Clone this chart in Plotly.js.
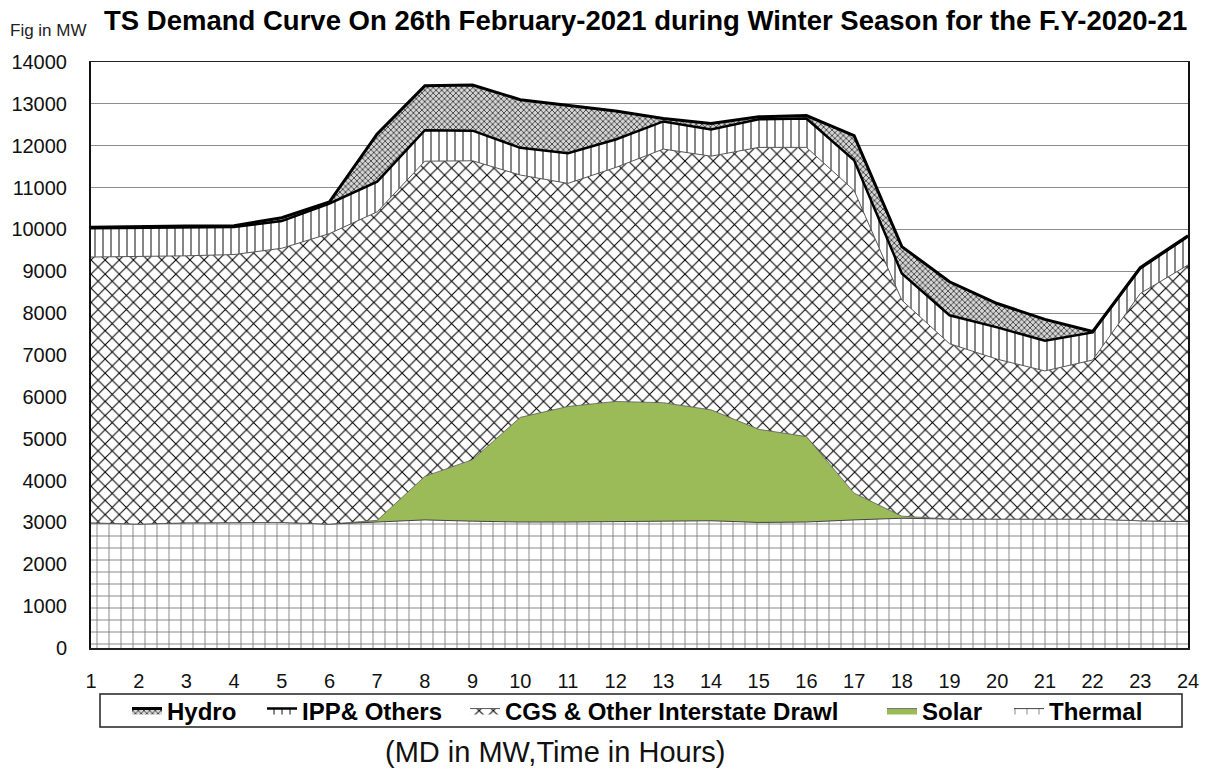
<!DOCTYPE html>
<html>
<head>
<meta charset="utf-8">
<script src="https://cdn.plot.ly/plotly-3.0.1.min.js"></script>
<style>
html,body{margin:0;padding:0;background:#fff;}
#chart{width:1216px;height:771px;}
</style>
</head>
<body>
<div id="chart"></div>
<script>
// Hours of the day
var hours = [1,2,3,4,5,6,7,8,9,10,11,12,13,14,15,16,17,18,19,20,21,22,23,24];
// Generation by source (MW)
var thermal = [2990,2960,2990,2990,3000,2960,3010,3060,3030,3010,3010,3020,3030,3040,3000,3010,3060,3100,3080,3080,3080,3080,3040,3020];
var solar   = [0,0,0,0,0,0,40,1040,1470,2500,2760,2870,2830,2650,2225,2040,640,50,0,0,0,0,0,0];
var cgs     = [6350,6390,6380,6410,6550,6940,7370,7530,7140,5790,5330,5590,6060,6060,6735,6910,7230,5160,4190,3820,3540,3800,5430,6130];
var ipp     = [690,690,680,660,650,720,720,740,720,650,720,670,660,640,670,690,720,640,680,760,720,660,600,680];
var hydro   = [20,30,30,30,80,40,1140,1060,1090,1150,1150,680,70,140,60,70,590,640,800,570,510,20,20,20];

var seriesNames = ["Thermal","Solar","CGS & Other Interstate Drawl","IPP& Others","Hydro"];
var titleText = "TS Demand Curve On 26th February-2021 during Winter Season for the F.Y-2020-21";
var unitText = "Fig in MW";
var axisNote = "(MD in MW,Time in Hours)";

var FONT = "Arial, 'Liberation Sans', sans-serif";

var traces = [
  {
    x: hours, y: thermal, name: seriesNames[0], stackgroup: "one", mode: "lines", legend: "legend5",
    line: {color: "#444", width: 1},
    fillpattern: {shape: "+", size: 12, solidity: 0.14, fgcolor: "#7a7a7a", bgcolor: "#ffffff"}
  },
  {
    x: hours, y: solar, name: seriesNames[1], stackgroup: "one", mode: "lines", legend: "legend4",
    line: {color: "#555", width: 0.8},
    fillcolor: "#9BBB59"
  },
  {
    x: hours, y: cgs, name: seriesNames[2], stackgroup: "one", mode: "lines", legend: "legend3",
    line: {color: "#555", width: 1},
    fillpattern: {shape: "x", size: 10, solidity: 0.2, fgcolor: "#000000", bgcolor: "#ffffff"}
  },
  {
    x: hours, y: ipp, name: seriesNames[3], stackgroup: "one", mode: "lines", legend: "legend2",
    line: {color: "#000", width: 2.5},
    fillpattern: {shape: "|", size: 8, solidity: 0.16, fgcolor: "#111", fgopacity: 0.8, bgcolor: "#ffffff"}
  },
  {
    x: hours, y: hydro, name: seriesNames[4], stackgroup: "one", mode: "lines", legend: "legend",
    line: {color: "#000", width: 3},
    fillpattern: {shape: "x", size: 4, solidity: 0.35, fgcolor: "#2a2a2a", bgcolor: "#d4d4d4"}
  }
];

// pixel -> paper helpers for placing the legend pieces
var PL = 91, PW = 1097, PB = 648, PH = 586;
function px(x){ return (x - PL) / PW; }
function py(y){ return (PB - y) / PH; }

function oneLegend(textStartPx){
  return {
    orientation: "h",
    x: px(textStartPx - 40), xanchor: "left", y: py(711), yanchor: "middle",
    bgcolor: "rgba(0,0,0,0)", borderwidth: 0,
    font: {family: FONT, size: 24, color: "#000", weight: "bold"},
    itemclick: false, itemdoubleclick: false
  };
}

var layout = {
  width: 1216, height: 771,
  margin: {l: 91, r: 28, t: 62, b: 123},
  paper_bgcolor: "#ffffff", plot_bgcolor: "#ffffff",
  font: {family: FONT, color: "#111"},
  showlegend: true,
  hovermode: false,
  title: {
    text: "<b>" + titleText + "</b>",
    font: {family: FONT, size: 27.5, color: "#000"},
    xref: "container", yref: "container",
    x: 0.531, xanchor: "center", y: 0.973, yanchor: "middle"
  },
  xaxis: {
    range: [1, 24], tickmode: "array", tickvals: hours,
    showgrid: false, zeroline: false,
    showline: true, linecolor: "#222", linewidth: 1.5, mirror: true,
    ticks: "", ticklabelstandoff: 14,
    tickfont: {family: FONT, size: 20, color: "#111"}
  },
  yaxis: {
    range: [0, 14000], dtick: 1000, tick0: 0, tickformat: "d",
    showgrid: true, gridcolor: "#8c8c8c", gridwidth: 1.2,
    zeroline: false,
    showline: true, linecolor: "#111", linewidth: 2, mirror: true,
    ticks: "", ticklabelstandoff: 18,
    tickfont: {family: FONT, size: 20, color: "#111"}
  },
  legend: oneLegend(167),
  legend2: oneLegend(302),
  legend3: oneLegend(505),
  legend4: oneLegend(922),
  legend5: oneLegend(1049),
  shapes: [
    {type: "rect", xref: "paper", yref: "paper",
     x0: px(100), x1: px(1182), y0: py(727), y1: py(694),
     line: {color: "#222", width: 1.5}, fillcolor: "rgba(0,0,0,0)", layer: "below"}
  ],
  annotations: [
    {text: unitText, xref: "paper", yref: "paper", x: px(8), xanchor: "left",
     y: py(30), yanchor: "middle", showarrow: false,
     font: {family: FONT, size: 17, color: "#222"}},
    {text: axisNote, xref: "paper", yref: "paper", x: px(555), xanchor: "center",
     y: py(752), yanchor: "middle", showarrow: false,
     font: {family: FONT, size: 29, color: "#111"}}
  ]
};

Plotly.newPlot("chart", traces, layout, {displayModeBar: false, staticPlot: true});
</script>
</body>
</html>
